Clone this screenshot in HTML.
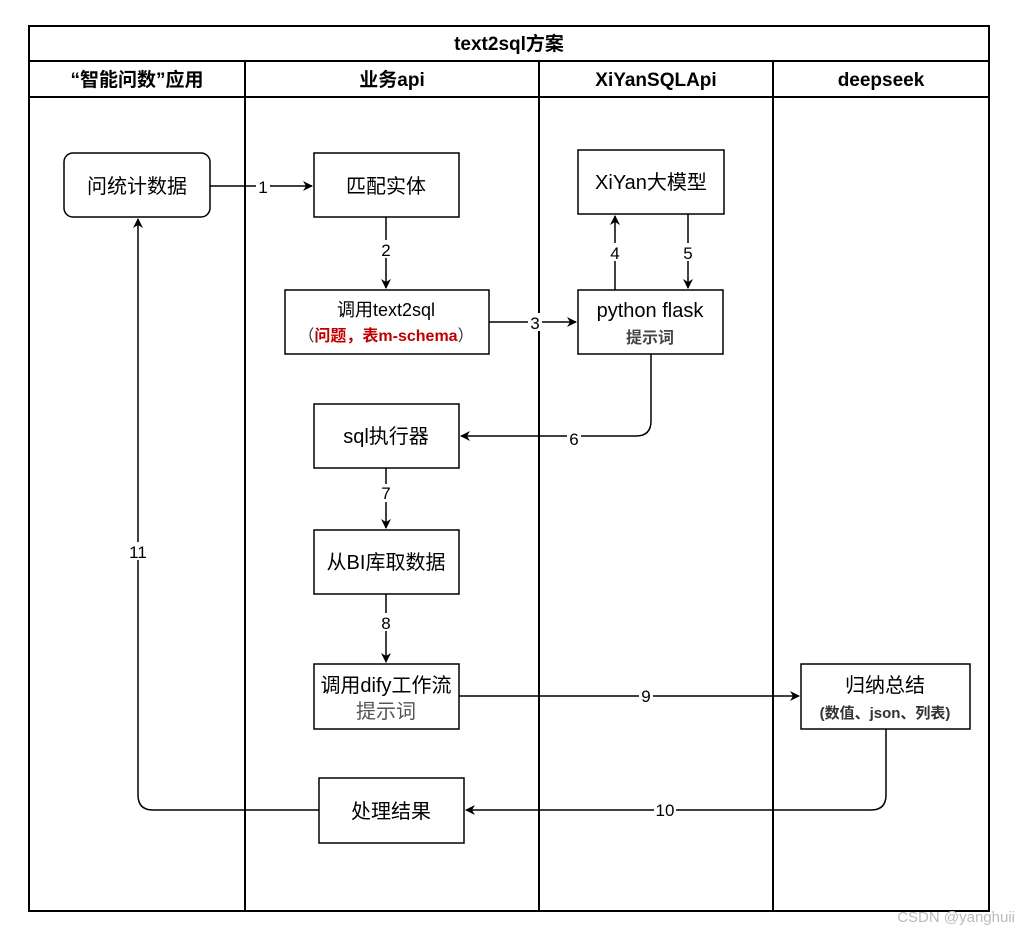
<!DOCTYPE html>
<html><head><meta charset="utf-8"><style>
body{margin:0;background:#fff;width:1020px;height:934px;overflow:hidden}
text{font-family:"Liberation Sans","Noto Sans CJK SC",sans-serif;}
</style></head><body>
<svg width="1020" height="934" viewBox="0 0 1020 934">
<defs><marker id="a" markerWidth="10" markerHeight="10" refX="9" refY="5" orient="auto" markerUnits="userSpaceOnUse"><path d="M0,0 L10,5 L0,10 L3,5 Z" fill="#000"/></marker></defs>
<g fill="none" stroke="#000" stroke-width="2">
<rect x="29" y="26" width="960" height="885"/>
<line x1="29" y1="61" x2="989" y2="61"/>
<line x1="29" y1="97" x2="989" y2="97"/>
<line x1="245" y1="61" x2="245" y2="911"/>
<line x1="539" y1="61" x2="539" y2="911"/>
<line x1="773" y1="61" x2="773" y2="911"/>
</g>
<g font-weight="bold" font-size="19" text-anchor="middle">
<text x="509" y="50">text2sql方案</text>
<text x="137" y="86">“智能问数”应用</text>
<text x="392" y="86">业务api</text>
<text x="656" y="86">XiYanSQLApi</text>
<text x="881" y="86">deepseek</text>
</g>
<g fill="none" stroke="#000" stroke-width="1.5">
<path d="M210,186 H312" marker-end="url(#a)"/>
<path d="M386,217 V288" marker-end="url(#a)"/>
<path d="M489,322 H576" marker-end="url(#a)"/>
<path d="M615,290 V216" marker-end="url(#a)"/>
<path d="M688,214 V288" marker-end="url(#a)"/>
<path d="M651,354 V421 Q651,436 636,436 H461" marker-end="url(#a)"/>
<path d="M386,468 V528" marker-end="url(#a)"/>
<path d="M386,594 V662" marker-end="url(#a)"/>
<path d="M459,696 H799" marker-end="url(#a)"/>
<path d="M886,729 V795 Q886,810 871,810 H466" marker-end="url(#a)"/>
<path d="M319,810 H153 Q138,810 138,795 V219" marker-end="url(#a)"/>
</g>
<g font-size="17" text-anchor="middle">
<rect x="256" y="178" width="14" height="18" fill="#fff"/><text x="263" y="193">1</text>
<rect x="379" y="240" width="14" height="18" fill="#fff"/><text x="386" y="256">2</text>
<rect x="528" y="313" width="14" height="18" fill="#fff"/><text x="535" y="329">3</text>
<rect x="608" y="243" width="14" height="18" fill="#fff"/><text x="615" y="259">4</text>
<rect x="681" y="243" width="14" height="18" fill="#fff"/><text x="688" y="259">5</text>
<rect x="567" y="429" width="14" height="18" fill="#fff"/><text x="574" y="445">6</text>
<rect x="379" y="484" width="14" height="18" fill="#fff"/><text x="386" y="499">7</text>
<rect x="379" y="613" width="14" height="18" fill="#fff"/><text x="386" y="629">8</text>
<rect x="639" y="687" width="14" height="18" fill="#fff"/><text x="646" y="702">9</text>
<rect x="654" y="801" width="22" height="18" fill="#fff"/><text x="665" y="816">10</text>
<rect x="127" y="542" width="22" height="18" fill="#fff"/><text x="138" y="558">11</text>
</g>
<g fill="#fff" stroke="#000" stroke-width="1.5">
<rect x="64" y="153" width="146" height="64" rx="9"/>
<rect x="314" y="153" width="145" height="64"/>
<rect x="285" y="290" width="204" height="64"/>
<rect x="578" y="150" width="146" height="64"/>
<rect x="578" y="290" width="145" height="64"/>
<rect x="314" y="404" width="145" height="64"/>
<rect x="314" y="530" width="145" height="64"/>
<rect x="314" y="664" width="145" height="65"/>
<rect x="801" y="664" width="169" height="65"/>
<rect x="319" y="778" width="145" height="65"/>
</g>
<g font-size="20" text-anchor="middle">
<text x="137" y="193">问统计数据</text>
<text x="386" y="193">匹配实体</text>
<text x="386" y="316" font-size="18">调用text2sql</text>
<text x="386" y="341" font-size="16" font-weight="bold" fill="#c00000"><tspan fill="#333" font-weight="normal">（</tspan>问题，表m-schema<tspan fill="#333" font-weight="normal">）</tspan></text>
<text x="651" y="189">XiYan大模型</text>
<text x="650" y="317">python flask</text>
<text x="650" y="343" font-size="16" font-weight="bold" fill="#444">提示词</text>
<text x="386" y="443">sql执行器</text>
<text x="386" y="569">从BI库取数据</text>
<text x="386" y="692">调用dify工作流</text>
<text x="386" y="718" fill="#555">提示词</text>
<text x="885" y="692">归纳总结</text>
<text x="885" y="718" font-size="15" font-weight="bold" fill="#333">(数值、json、列表)</text>
<text x="391" y="818">处理结果</text>
</g>
<text x="1015" y="922" font-size="15" fill="#bbb" text-anchor="end">CSDN @yanghuii</text>
</svg>
</body></html>
